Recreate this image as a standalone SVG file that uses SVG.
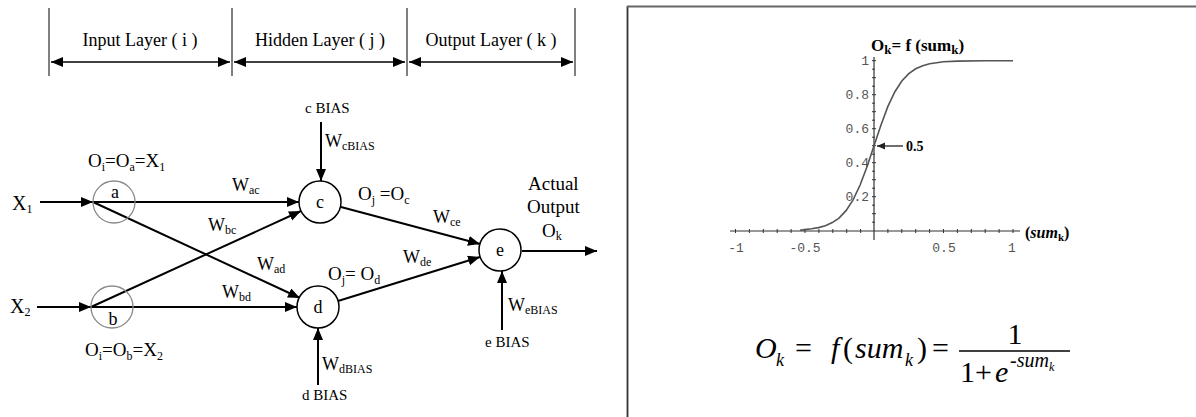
<svg xmlns="http://www.w3.org/2000/svg" width="1196" height="417" viewBox="0 0 1196 417">
<style>
.s{font-family:"Liberation Serif",serif;fill:#000}
.f18{font-size:18px}.f19{font-size:19px}.f15{font-size:15px}.f20{font-size:20px}
.sub{font-size:12px}
.ln{stroke:#000;stroke-width:2;fill:none}
.hd{stroke:#000;stroke-width:1.6;fill:none}
.vt{stroke:#000;stroke-width:1;fill:none}
.mono{font-family:"Liberation Mono",monospace;font-size:13px;fill:#555}
.it{font-style:italic}
.b{font-weight:bold}
</style>
<defs>
<marker id="ah" markerUnits="userSpaceOnUse" markerWidth="13" markerHeight="11" refX="12" refY="5" orient="auto"><path d="M0,0 L12,5 L0,10 z" fill="#000"/></marker>
<marker id="hh" markerUnits="userSpaceOnUse" markerWidth="13" markerHeight="11" refX="12" refY="5" orient="auto-start-reverse"><path d="M0,0 L12,5 L0,10 z" fill="#000"/></marker>
<marker id="sa" markerUnits="userSpaceOnUse" markerWidth="9" markerHeight="8" refX="8" refY="3.5" orient="auto"><path d="M0,0 L8,3.5 L0,7 z" fill="#222"/></marker>
</defs>
<rect width="1196" height="417" fill="#fff"/>

<!-- header -->
<g id="header">
<line class="vt" x1="49" y1="8" x2="49" y2="76"/>
<line class="vt" x1="232" y1="8" x2="232" y2="76"/>
<line class="vt" x1="407" y1="8" x2="407" y2="76"/>
<line class="vt" x1="575" y1="8" x2="575" y2="76"/>
<line class="hd" x1="51" y1="62" x2="230" y2="62" marker-start="url(#hh)" marker-end="url(#hh)"/>
<line class="hd" x1="234" y1="62" x2="405" y2="62" marker-start="url(#hh)" marker-end="url(#hh)"/>
<line class="hd" x1="409" y1="62" x2="573" y2="62" marker-start="url(#hh)" marker-end="url(#hh)"/>
<text class="s f18" x="140" y="46" text-anchor="middle">Input Layer ( i )</text>
<text class="s f18" x="320" y="46" text-anchor="middle">Hidden Layer ( j )</text>
<text class="s f18" x="491" y="46" text-anchor="middle">Output Layer ( k )</text>
</g>

<!-- connectors -->
<g id="connectors">
<line class="ln" x1="40" y1="202" x2="93" y2="202" marker-end="url(#ah)"/>
<line class="ln" x1="37" y1="307" x2="91" y2="307" marker-end="url(#ah)"/>
<line class="ln" x1="93" y1="202" x2="299" y2="202" marker-end="url(#ah)"/>
<line class="ln" x1="93" y1="202" x2="300" y2="298" marker-end="url(#ah)"/>
<line class="ln" x1="91" y1="307" x2="301" y2="211" marker-end="url(#ah)"/>
<line class="ln" x1="91" y1="307" x2="297" y2="307" marker-end="url(#ah)"/>
<line class="ln" x1="341" y1="207" x2="480" y2="244" marker-end="url(#ah)"/>
<line class="ln" x1="338" y1="301" x2="480" y2="257" marker-end="url(#ah)"/>
<line class="ln" x1="522" y1="251" x2="597" y2="251" marker-end="url(#ah)"/>
<line class="ln" x1="321" y1="122" x2="321" y2="181" marker-end="url(#ah)"/>
<line class="ln" x1="318" y1="385" x2="318" y2="328" marker-end="url(#ah)"/>
<line class="ln" x1="502" y1="330" x2="502" y2="271" marker-end="url(#ah)"/>
</g>

<!-- nodes -->
<g id="node-a">
<circle cx="114" cy="202" r="21" fill="none" stroke="#888" stroke-width="1.3"/>
<text class="s f18" x="115" y="198" text-anchor="middle">a</text>
</g>
<g id="node-b">
<circle cx="112" cy="307" r="21" fill="none" stroke="#888" stroke-width="1.3"/>
<text class="s f18" x="113" y="325" text-anchor="middle">b</text>
</g>
<g id="node-c">
<circle cx="320" cy="202" r="21" fill="#fff" stroke="#000" stroke-width="1.5"/>
<text class="s f18" x="320" y="208" text-anchor="middle">c</text>
</g>
<g id="node-d">
<circle cx="318" cy="307" r="21" fill="#fff" stroke="#000" stroke-width="1.5"/>
<text class="s f18" x="318" y="313" text-anchor="middle">d</text>
</g>
<g id="node-e">
<circle cx="500" cy="250" r="21" fill="#fff" stroke="#000" stroke-width="1.5"/>
<text class="s f18" x="500" y="256" text-anchor="middle">e</text>
</g>

<!-- labels -->
<g id="labels">
<text class="s f20" x="12" y="210">X<tspan class="sub" font-size="13" dy="3">1</tspan></text>
<text class="s f20" x="10" y="313">X<tspan class="sub" font-size="13" dy="3">2</tspan></text>
<text class="s f19" x="88" y="167">O<tspan class="sub" dy="4">i</tspan><tspan dy="-4">=O</tspan><tspan class="sub" dy="4">a</tspan><tspan dy="-4">=X</tspan><tspan class="sub" dy="4">1</tspan></text>
<text class="s f19" x="85" y="356">O<tspan class="sub" dy="4">i</tspan><tspan dy="-4">=O</tspan><tspan class="sub" dy="4">b</tspan><tspan dy="-4">=X</tspan><tspan class="sub" dy="4">2</tspan></text>
<text class="s f18" x="232" y="191">W<tspan class="sub" dy="3">ac</tspan></text>
<text class="s f18" x="208" y="231">W<tspan class="sub" dy="3">bc</tspan></text>
<text class="s f18" x="257" y="270">W<tspan class="sub" dy="3">ad</tspan></text>
<text class="s f18" x="222" y="298">W<tspan class="sub" dy="3">bd</tspan></text>
<text class="s f15" x="305" y="113">c BIAS</text>
<text class="s f18" x="325" y="147">W<tspan class="sub" dy="3">cBIAS</tspan></text>
<text class="s f19" x="358" y="200">O<tspan class="sub" dy="4">j</tspan><tspan dy="-4"> =O</tspan><tspan class="sub" dy="4">c</tspan></text>
<text class="s f18" x="433" y="223">W<tspan class="sub" dy="3">ce</tspan></text>
<text class="s f19" x="328" y="280">O<tspan class="sub" dy="4">j</tspan><tspan dy="-4">= O</tspan><tspan class="sub" dy="4">d</tspan></text>
<text class="s f18" x="403" y="263">W<tspan class="sub" dy="3">de</tspan></text>
<text class="s f19" x="528" y="190">Actual</text>
<text class="s f19" x="527" y="213">Output</text>
<text class="s f19" x="542" y="237">O<tspan class="sub" dy="3">k</tspan></text>
<text class="s f18" x="508" y="311">W<tspan class="sub" dy="3">eBIAS</tspan></text>
<text class="s f15" x="485" y="347">e BIAS</text>
<text class="s f18" x="322" y="370">W<tspan class="sub" dy="3">dBIAS</tspan></text>
<text class="s f15" x="302" y="400">d BIAS</text>
</g>

<!-- right panel -->
<g id="panel">
<line x1="627.5" y1="6" x2="627.5" y2="417" stroke="#333" stroke-width="1.8"/>
<line x1="627" y1="6.5" x2="1196" y2="6.5" stroke="#666" stroke-width="2"/>
</g>

<g id="plot">
<line x1="730" y1="231" x2="1020" y2="231" stroke="#333" stroke-width="1.2"/>
<line x1="874" y1="57" x2="874" y2="240" stroke="#333" stroke-width="1.2"/>
<path d="M735.5,229v4M749.4,229v4M763.3,229v4M777.2,229v4M791.1,229v4M805,229v4M818.9,229v4M832.8,229v4M846.7,229v4M860.6,229v4M887.9,229v4M901.8,229v4M915.7,229v4M929.6,229v4M943.5,229v4M957.4,229v4M971.3,229v4M985.2,229v4M999.1,229v4M1013,229v4" stroke="#333" stroke-width="1"/>
<path d="M872,60.7h4M872,69.2h3M872,77.7h4M872,86.2h3M872,94.7h4M872,103.2h3M872,111.7h4M872,120.2h3M872,128.7h4M872,137.2h3M872,145.7h4M872,154.2h3M872,162.7h4M872,171.2h3M872,179.7h4M872,188.2h3M872,196.7h4M872,205.2h3M872,213.7h4M872,222.2h3" stroke="#333" stroke-width="1"/>
<path d="M800,230.2 L804.5,229.6 L811.5,228.8 L818.4,227.6 L825.4,225.7 L832.3,222.6 L839.3,217.8 L846.2,210.4 L853.2,199.7 L860.1,185 L867.1,166.5 L874,145.7 L881,124.9 L887.9,106.4 L894.9,91.7 L901.8,81 L908.8,73.6 L915.7,68.8 L922.7,65.7 L929.6,63.8 L943.5,61.8 L957.4,61.1 L985.2,60.8 L1013,60.7" fill="none" stroke="#555" stroke-width="1.6"/>
<text class="mono" x="869" y="65" text-anchor="end">1</text>
<text class="mono" x="869" y="99" text-anchor="end">0.8</text>
<text class="mono" x="869" y="133" text-anchor="end">0.6</text>
<text class="mono" x="869" y="167" text-anchor="end">0.4</text>
<text class="mono" x="869" y="201" text-anchor="end">0.2</text>
<text class="mono" x="736" y="252" text-anchor="middle">-1</text>
<text class="mono" x="805" y="252" text-anchor="middle">-0.5</text>
<text class="mono" x="944" y="252" text-anchor="middle">0.5</text>
<text class="mono" x="1012" y="252" text-anchor="middle">1</text>
<line x1="903" y1="146" x2="877" y2="146" stroke="#222" stroke-width="1.3" marker-end="url(#sa)"/>
<text class="s b" font-size="14" x="906" y="151">0.5</text>
<text class="s b" font-size="16" x="1025" y="238">(<tspan class="it">sum</tspan><tspan font-size="11" dy="3">k</tspan><tspan dy="-3">)</tspan></text>
<text class="s b" font-size="17" x="871" y="51">O<tspan font-size="13" dy="3">k</tspan><tspan dy="-3">= f (sum</tspan><tspan font-size="13" dy="3">k</tspan><tspan dy="-3">)</tspan></text>
</g>

<g id="formula">
<text class="s it" font-size="30" x="755" y="358">O</text>
<text class="s it" font-size="18" x="776" y="366">k</text>
<text class="s" font-size="30" x="795" y="358">=</text>
<text class="s it" font-size="30" x="831" y="358">f</text>
<text class="s" font-size="30" x="843" y="358">(</text>
<text class="s it" font-size="30" x="855" y="358">sum</text>
<text class="s it" font-size="18" x="905" y="366">k</text>
<text class="s" font-size="30" x="917" y="358">)</text>
<text class="s" font-size="30" x="932" y="358">=</text>
<text class="s" font-size="30" x="1015" y="344" text-anchor="middle">1</text>
<line x1="959" y1="351" x2="1070" y2="351" stroke="#000" stroke-width="1.3"/>
<text class="s" font-size="30" x="960" y="382">1</text>
<text class="s" font-size="30" x="975" y="382">+</text>
<text class="s it" font-size="30" x="995" y="382">e</text>
<text class="s it" font-size="20" x="1010" y="367">-sum</text>
<text class="s it" font-size="12" x="1049" y="371">k</text>
</g>
</svg>
